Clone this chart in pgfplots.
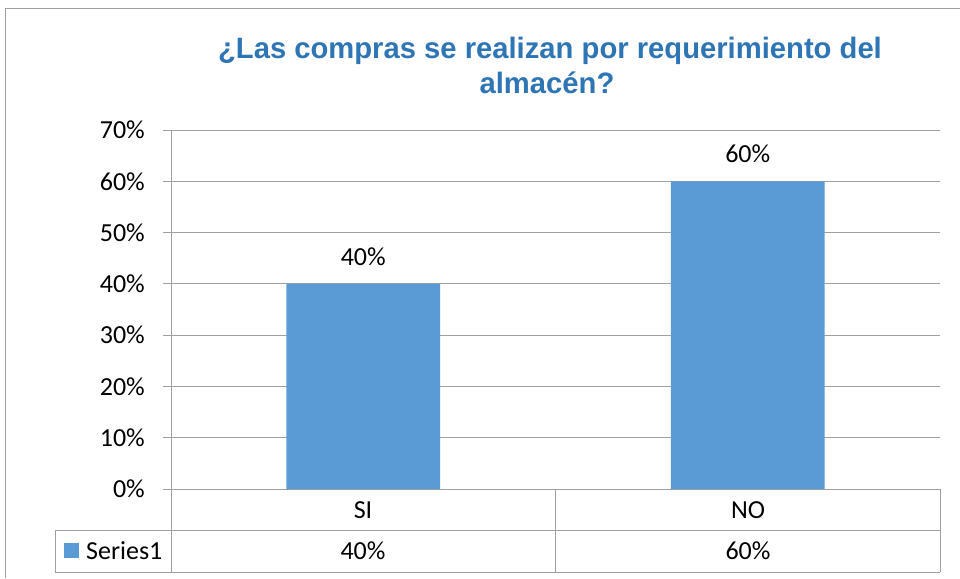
\documentclass[border=0pt]{standalone}
\usepackage{pgfplots}
\pgfplotsset{compat=1.18}
\usepackage{fontspec}
\usepackage{graphicx}
\setmainfont{Carlito}
\newfontfamily\titlefont{Liberation Sans}
\definecolor{barblue}{HTML}{5B9BD5}
\definecolor{titleblue}{HTML}{2E75B6}
\definecolor{gridgray}{HTML}{A0A0A0}
\begin{document}
\begin{tikzpicture}[x=1pt,y=1pt]
\useasboundingbox (0,0) rectangle (960,578);
% outer chart border
\draw[gridgray,line width=1pt] (5,0) -- (5,569) -- (960,569);
% title
\node[anchor=base,inner sep=0pt,text=titleblue] at (550,519)
  {\scalebox{0.99}[1]{\titlefont\bfseries\fontsize{29.5}{34}\selectfont ¿Las compras se realizan por requerimiento del}};
\node[anchor=base,inner sep=0pt,text=titleblue] at (547,484)
  {\scalebox{0.99}[1]{\titlefont\bfseries\fontsize{29.5}{34}\selectfont almacén?}};
\begin{axis}[
  at={(171pt,89pt)}, anchor=south west,
  scale only axis, width=769pt, height=359pt,
  xmin=-0.5, xmax=1.5, ymin=0, ymax=70,
  axis x line=bottom, axis y line=left,
  axis line style={gridgray,line width=1pt,-},
  xtick=\empty,
  ytick={0,10,20,30,40,50,60,70},
  ymajorgrids, grid style={gridgray,line width=1pt},
  tick align=outside, major tick length=8pt,
  tick style={gridgray,line width=1pt},
  yticklabel={\pgfmathprintnumber[assume math mode=true]{\tick}\%},
  yticklabel style={font=\fontsize{26}{30}\selectfont, anchor=east, inner sep=0pt},
  yticklabel shift=18pt,
  clip=false,
  bar width=0.4,
  nodes near coords={\pgfmathprintnumber[assume math mode=true]{\pgfplotspointmeta}\%},
  nodes near coords style={font=\fontsize{26}{30}\selectfont, anchor=base, inner sep=0pt, yshift=18.3pt, text=black},
]
\addplot[ybar, fill=barblue, draw=none] coordinates {(0,40) (1,60)};
\end{axis}
% data table
\draw[gridgray,line width=1pt] (171,89) -- (171,6);
\draw[gridgray,line width=1pt] (555,89) -- (555,6);
\draw[gridgray,line width=1pt] (940,89) -- (940,6);
\draw[gridgray,line width=1pt] (55,48) -- (940,48);
\draw[gridgray,line width=1pt] (55,6) -- (940,6);
\draw[gridgray,line width=1pt] (55,48) -- (55,6);
\fill[barblue] (64,20) rectangle (79,35);
\node[anchor=base west,inner sep=0pt,font=\fontsize{26}{30}\selectfont] at (86,19) {Series1};
\node[anchor=base,inner sep=0pt,font=\fontsize{26}{30}\selectfont] at (363,60) {SI};
\node[anchor=base,inner sep=0pt,font=\fontsize{26}{30}\selectfont] at (748,60) {NO};
\node[anchor=base,inner sep=0pt,font=\fontsize{26}{30}\selectfont] at (363,19) {40\%};
\node[anchor=base,inner sep=0pt,font=\fontsize{26}{30}\selectfont] at (748,19) {60\%};
\end{tikzpicture}
\end{document}
